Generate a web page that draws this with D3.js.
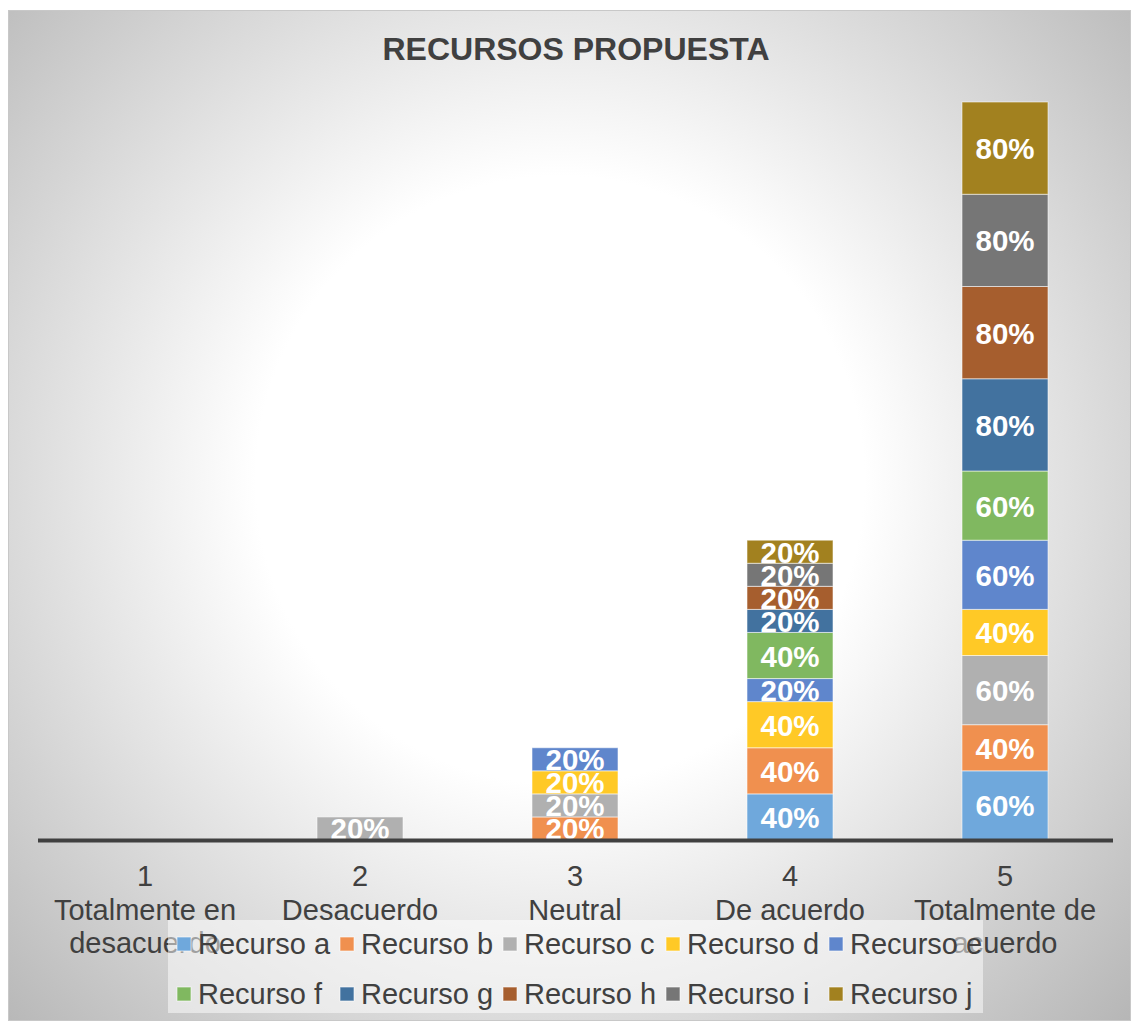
<!DOCTYPE html>
<html>
<head>
<meta charset="utf-8">
<script src="https://cdn.jsdelivr.net/npm/d3@7"></script>
<style>
  body { margin: 0; background: #fff; }
  text { font-family: "Liberation Sans", Arial, sans-serif; }
</style>
</head>
<body>
<div id="chart"></div>
<script>
// categorias del eje x (cada una en varias lineas)
var categories = ["1", "2", "3", "4", "5"];
var categoryLines = [
    ["1", "Totalmente en", "desacuerdo"],
    ["2", "Desacuerdo"],
    ["3", "Neutral"],
    ["4", "De acuerdo"],
    ["5", "Totalmente de", "acuerdo"]
];
var seriesNames = ["Recurso a", "Recurso b", "Recurso c", "Recurso d", "Recurso e",
                   "Recurso f", "Recurso g", "Recurso h", "Recurso i", "Recurso j"];
var seriesColors = ["#6fa8dc", "#f0904f", "#b0b0b0", "#ffc926", "#5f86cc",
                    "#80b860", "#42729f", "#a65e2e", "#767676", "#a2811f"];

// porcentaje por categoria (1..5) para cada recurso
var recursoA = [0, 0, 0, 40, 60];
var recursoB = [0, 0, 20, 40, 40];
var recursoC = [0, 20, 20, 0, 60];
var recursoD = [0, 0, 20, 40, 40];
var recursoE = [0, 0, 20, 20, 60];
var recursoF = [0, 0, 0, 40, 60];
var recursoG = [0, 0, 0, 20, 80];
var recursoH = [0, 0, 0, 20, 80];
var recursoI = [0, 0, 0, 20, 80];
var recursoJ = [0, 0, 0, 20, 80];

var seriesValues = [recursoA, recursoB, recursoC, recursoD, recursoE,
                    recursoF, recursoG, recursoH, recursoI, recursoJ];

var width = 1132, height = 1022;

var rows = categories.map(function (c, i) {
    var r = {cat: c};
    seriesNames.forEach(function (s, j) { r[s] = seriesValues[j][i]; });
    return r;
});

var stacked = d3.stack().keys(seriesNames)(rows);

var x = d3.scaleBand()
    .domain(categories)
    .range([37.5, 1112.5])
    .paddingInner(0.6)
    .paddingOuter(0.3);

var y = d3.scaleLinear()
    .domain([0, 640])
    .range([840, 102]);

var color = d3.scaleOrdinal().domain(seriesNames).range(seriesColors);

var svg = d3.select("#chart").append("svg")
    .attr("width", width)
    .attr("height", height);

var grad = svg.append("defs").append("radialGradient")
    .attr("id", "bg")
    .attr("gradientUnits", "userSpaceOnUse")
    .attr("cx", 560).attr("cy", 480).attr("r", 800);
grad.append("stop").attr("offset", 0).attr("stop-color", "#ffffff");
grad.append("stop").attr("offset", 0.38).attr("stop-color", "#ffffff");
grad.append("stop").attr("offset", 1).attr("stop-color", "#b4b4b4");

svg.append("rect")
    .attr("x", 8.5).attr("y", 10.5)
    .attr("width", 1122).attr("height", 1010)
    .attr("fill", "url(#bg)")
    .attr("stroke", "#c8c8c8");

svg.append("text")
    .attr("x", 576).attr("y", 60)
    .attr("text-anchor", "middle")
    .style("font-size", "32px")
    .style("font-weight", "bold")
    .style("fill", "#404040")
    .text("RECURSOS PROPUESTA");

// barras apiladas
var layers = svg.append("g").selectAll("g")
    .data(stacked)
    .enter().append("g")
    .attr("fill", function (d) { return color(d.key); });

layers.selectAll("rect")
    .data(function (d) { return d.filter(function (p) { return p[1] - p[0] > 0; }); })
    .enter().append("rect")
    .attr("x", function (d) { return x(d.data.cat); })
    .attr("y", function (d) { return y(d[1]); })
    .attr("width", x.bandwidth())
    .attr("height", function (d) { return y(d[0]) - y(d[1]); })
    .attr("stroke", "rgba(255,255,255,0.55)")
    .attr("stroke-width", 1);

// ejes
var xAxis = svg.append("g")
    .attr("transform", "translate(0,840)")
    .call(d3.axisBottom(x).tickSize(0).tickSizeOuter(0).tickFormat(""));

xAxis.select(".domain")
    .attr("stroke", "#404040")
    .attr("stroke-width", 4);

// etiquetas de datos
layers.selectAll("text.lbl")
    .data(function (d) { return d.filter(function (p) { return p[1] - p[0] > 0; }); })
    .enter().append("text")
    .attr("class", "lbl")
    .attr("x", function (d) { return x(d.data.cat) + x.bandwidth() / 2; })
    .attr("y", function (d) { return (y(d[0]) + y(d[1])) / 2 + 11; })
    .attr("text-anchor", "middle")
    .style("font-size", "29.5px")
    .style("font-weight", "bold")
    .style("fill", "#ffffff")
    .text(function (d) { return (d[1] - d[0]) + "%"; });

var catLabels = svg.append("g").selectAll("text")
    .data(categoryLines)
    .enter().append("text")
    .attr("text-anchor", "middle")
    .style("font-size", "29px")
    .style("fill", "#404040");

catLabels.selectAll("tspan")
    .data(function (d, i) { return d.map(function (t) { return {t: t, c: categories[i]}; }); })
    .enter().append("tspan")
    .attr("x", function (d) { return x(d.c) + x.bandwidth() / 2; })
    .attr("y", function (d, i) { return 886 + i * 33.5; })
    .text(function (d) { return d.t; });

// leyenda
svg.append("rect")
    .attr("x", 168).attr("y", 920)
    .attr("width", 815).attr("height", 93)
    .attr("fill", "#ffffff")
    .attr("fill-opacity", 0.5);

var legend = svg.append("g").selectAll("g")
    .data(seriesNames)
    .enter().append("g")
    .attr("transform", function (d, i) {
        return "translate(" + (177 + (i % 5) * 163) + "," + (944 + Math.floor(i / 5) * 50) + ")";
    });

legend.append("rect")
    .attr("x", 0).attr("y", -7)
    .attr("width", 14).attr("height", 14)
    .attr("fill", function (d) { return color(d); })
    .attr("stroke", "rgba(255,255,255,0.6)");

legend.append("text")
    .attr("x", 21).attr("y", 10)
    .style("font-size", "29px")
    .style("fill", "#404040")
    .text(function (d) { return d; });
</script>
</body>
</html>
